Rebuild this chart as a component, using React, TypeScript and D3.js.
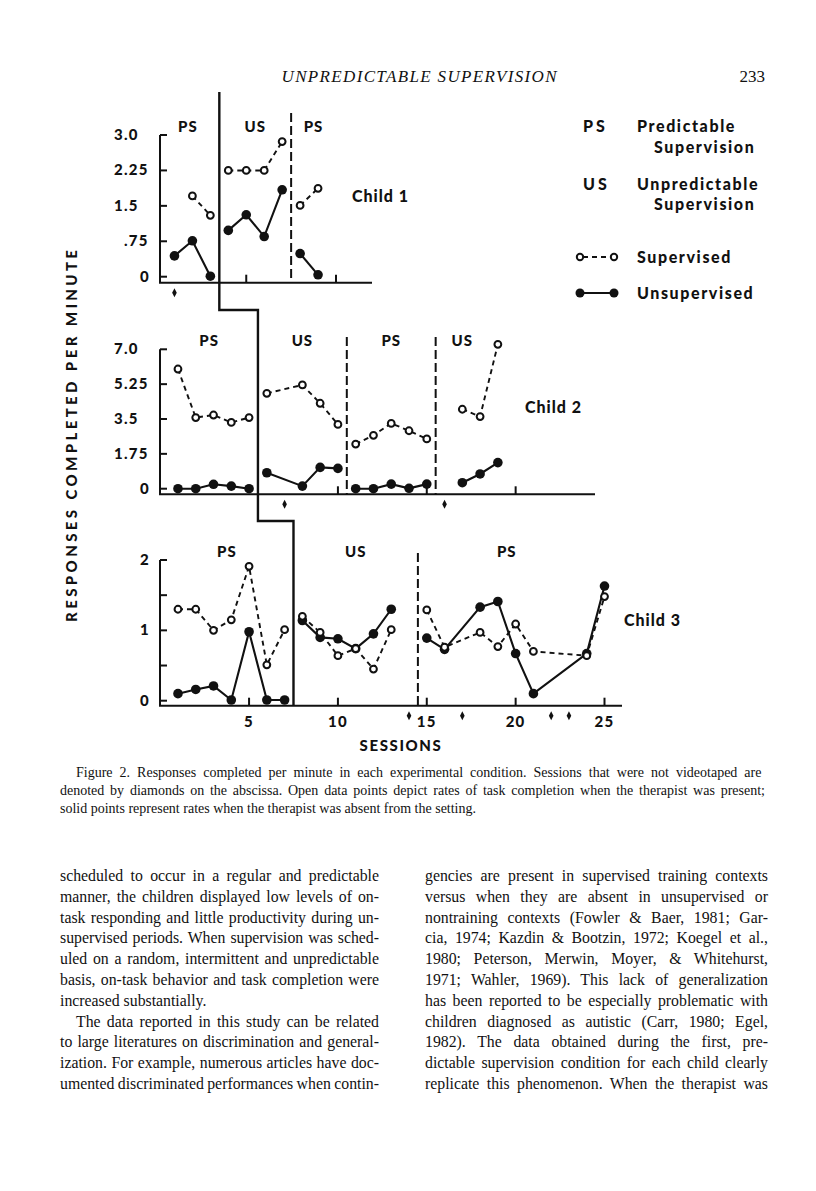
import React, { useLayoutEffect, useRef, useState } from 'react';
import * as d3 from 'd3';

// ---------------- DATA ----------------
const child1Sessions = [1, 2, 3, 4, 5, 6, 7, 8, 9];
const child1Supervised = [null, 1.71, 1.3, 2.25, 2.25, 2.25, 2.86, 1.51, 1.87];
const child1Unsupervised = [0.44, 0.76, 0.01, 0.98, 1.31, 0.85, 1.84, 0.49, 0.04];
const child1Phases = ['PS', 'US', 'PS'];
const child1PhaseBounds = [0, 3.5, 7.5, 10];
const child1NotTaped = [1];
const child1YTicks = [0, 0.75, 1.5, 2.25, 3];
const child1YLabels = ['0', '.75', '1.5', '2.25', '3.0'];
const child1XTicks = [5, 10];

const child2Sessions = [1, 2, 3, 4, 5, 6, 8, 9, 10, 11, 12, 13, 14, 15, 17, 18, 19];
const child2Supervised = [6.01, 3.57, 3.7, 3.33, 3.57, 4.79, 5.21, 4.29, 3.23, 2.24, 2.68, 3.28, 2.91, 2.5, 3.99, 3.62, 7.25];
const child2Unsupervised = [0.0, 0.0, 0.22, 0.13, 0.0, 0.8, 0.13, 1.07, 1.02, 0.0, 0.0, 0.23, 0.02, 0.23, 0.3, 0.74, 1.31];
const child2Phases = ['PS', 'US', 'PS', 'US'];
const child2PhaseBounds = [0, 5.5, 10.5, 15.5, 18.5];
const child2NotTaped = [7, 16];
const child2YTicks = [0, 1.75, 3.5, 5.25, 7];
const child2YLabels = ['0', '1.75', '3.5', '5.25', '7.0'];
const child2XTicks = [10, 15, 20];

const child3Sessions = [1, 2, 3, 4, 5, 6, 7, 8, 9, 10, 11, 12, 13, 15, 16, 18, 19, 20, 21, 24, 25];
const child3Supervised = [1.3, 1.3, 1.0, 1.15, 1.91, 0.51, 1.01, 1.2, 0.97, 0.64, 0.74, 0.45, 1.01, 1.29, 0.76, 0.97, 0.77, 1.09, 0.7, 0.64, 1.48];
const child3Unsupervised = [0.1, 0.16, 0.21, 0.01, 0.98, 0.01, 0.01, 1.14, 0.9, 0.88, 0.74, 0.95, 1.3, 0.89, 0.73, 1.33, 1.41, 0.67, 0.1, 0.67, 1.63];
const child3Phases = ['PS', 'US', 'PS'];
const child3PhaseBounds = [0, 7.5, 14.5, 24.5];
const child3NotTaped = [14, 17, 22, 23];
const child3YTicks = [0, 0.5, 1, 1.5, 2];
const child3YLabels = ['0', '', '1', '', '2'];
const child3XTicks = [5, 10, 15, 20, 25];
const child3XLabels = ['5', '10', '15', '20', '25'];

const legendCodes = ['PS', 'US'];
const legendCodeNames = [['Predictable', 'Supervision'], ['Unpredictable', 'Supervision']];
const legendSeries = ['Supervised', 'Unsupervised'];

const headerTitle = 'UNPREDICTABLE SUPERVISION';
const pageNumber = '233';
const yAxisTitle = 'RESPONSES COMPLETED PER MINUTE';
const xAxisTitle = 'SESSIONS';

const captionLines = [
  'Figure 2.  Responses completed per minute in each experimental condition. Sessions that were not videotaped are',
  'denoted by diamonds on the abscissa. Open data points depict rates of task completion when the therapist was present;',
  'solid points represent rates when the therapist was absent from the setting.',
];

const leftColumn = [
  'scheduled to occur in a regular and predictable',
  'manner, the children displayed low levels of on-',
  'task responding and little productivity during un-',
  'supervised periods. When supervision was sched-',
  'uled on a random, intermittent and unpredictable',
  'basis, on-task behavior and task completion were',
  'increased substantially.',
  'The data reported in this study can be related',
  'to large literatures on discrimination and general-',
  'ization. For example, numerous articles have doc-',
  'umented discriminated performances when contin-',
];
const rightColumn = [
  'gencies are present in supervised training contexts',
  'versus when they are absent in unsupervised or',
  'nontraining contexts (Fowler & Baer, 1981; Gar-',
  'cia, 1974; Kazdin & Bootzin, 1972; Koegel et al.,',
  '1980; Peterson, Merwin, Moyer, & Whitehurst,',
  '1971; Wahler, 1969). This lack of generalization',
  'has been reported to be especially problematic with',
  'children diagnosed as autistic (Carr, 1980; Egel,',
  '1982). The data obtained during the first, pre-',
  'dictable supervision condition for each child clearly',
  'replicate this phenomenon. When the therapist was',
];

// ---------------- LAYOUT ----------------
const W = 816;
const H = 1191;
const INK = '#111';
const SANS = 'Lato, "DejaVu Sans", sans-serif';
const SERIF = '"Liberation Serif", "DejaVu Serif", serif';
const HEAVY = 900;
const AXIS_X = 160;

const xMain = d3.scaleLinear().domain([0, 25]).range([160.2, 604.5]);
const xChild1 = d3.scaleLinear().domain([0, 10]).range([156.5, 336]);

const panels = [
  {
    name: 'Child 1',
    sessions: child1Sessions, sup: child1Supervised, unsup: child1Unsupervised,
    phases: child1Phases, bounds: child1PhaseBounds, notTaped: child1NotTaped,
    yTicks: child1YTicks, yLabels: child1YLabels, xTicks: child1XTicks, xLabels: null as string[] | null,
    x: xChild1,
    y: d3.scaleLinear().domain([0, 3]).range([276.7, 135]),
    baseline: 282.7, baseEnd: 372, dashTop: 113,
    childPos: [352, 202],
  },
  {
    name: 'Child 2',
    sessions: child2Sessions, sup: child2Supervised, unsup: child2Unsupervised,
    phases: child2Phases, bounds: child2PhaseBounds, notTaped: child2NotTaped,
    yTicks: child2YTicks, yLabels: child2YLabels, xTicks: child2XTicks, xLabels: null as string[] | null,
    x: xMain,
    y: d3.scaleLinear().domain([0, 7]).range([488.7, 349.3]),
    baseline: 494.3, baseEnd: 595, dashTop: 337,
    childPos: [525, 413],
  },
  {
    name: 'Child 3',
    sessions: child3Sessions, sup: child3Supervised, unsup: child3Unsupervised,
    phases: child3Phases, bounds: child3PhaseBounds, notTaped: child3NotTaped,
    yTicks: child3YTicks, yLabels: child3YLabels, xTicks: child3XTicks, xLabels: child3XLabels,
    x: xMain,
    y: d3.scaleLinear().domain([0, 2]).range([700.7, 560]),
    baseline: 705.7, baseEnd: 622, dashTop: 553,
    childPos: [624, 626],
  },
];

const diamondPath = 'M0,-4.5 L2.3,0 L0,4.5 L-2.3,0 Z';

function YLabel({ label, y }: { label: string; y: number }) {
  const common = { fontFamily: SANS, fontWeight: HEAVY, fontSize: 15, fill: INK, letterSpacing: 1.2 } as const;
  if (!label) return null;
  if (label.includes('.')) {
    const [a, b] = label.split('.');
    const decX = 124;
    return (
      <g>
        {a && <text x={decX} y={y + 5} textAnchor="end" {...common}>{a}</text>}
        <text x={decX} y={y + 5} textAnchor="start" {...common}>{'.' + b}</text>
      </g>
    );
  }
  return <text x={150} y={y + 5} textAnchor="end" {...common}>{label}</text>;
}

function Panel({ p }: { p: (typeof panels)[number] }) {
  const { x, y } = p;
  const yTop = y(p.yTicks[p.yTicks.length - 1]);
  const items = p.sessions.map((s, i) => ({ s, sup: p.sup[i], unsup: p.unsup[i] }));
  const last = p.phases.length - 1;
  const groups = p.phases.map((_, k) =>
    items.filter((d) => d.s > p.bounds[k] && (k === last || d.s < p.bounds[k + 1]))
  );
  const lineSup = d3
    .line<{ s: number; sup: number | null }>()
    .defined((d) => d.sup != null)
    .x((d) => x(d.s))
    .y((d) => y(d.sup as number));
  const lineUnsup = d3
    .line<{ s: number; unsup: number | null }>()
    .defined((d) => d.unsup != null)
    .x((d) => x(d.s))
    .y((d) => y(d.unsup as number));

  return (
    <g>
      <line x1={AXIS_X} x2={AXIS_X} y1={yTop} y2={p.baseline} stroke={INK} strokeWidth={2} />
      {p.yTicks.map((t, i) => (
        <g key={'yt' + i}>
          <line x1={AXIS_X} x2={AXIS_X + 7} y1={y(t)} y2={y(t)} stroke={INK} strokeWidth={2} />
          <YLabel label={p.yLabels[i]} y={y(t)} />
        </g>
      ))}
      <line x1={AXIS_X - 1} x2={p.baseEnd} y1={p.baseline} y2={p.baseline} stroke={INK} strokeWidth={2} />
      {p.xTicks.map((t, i) => (
        <g key={'xt' + i}>
          <line x1={x(t)} x2={x(t)} y1={p.baseline} y2={p.baseline - 8} stroke={INK} strokeWidth={2} />
          {p.xLabels && (
            <text x={x(t)} y={p.baseline + 21} textAnchor="middle" fontFamily={SANS} fontWeight={HEAVY} fontSize={15} fill={INK} letterSpacing={1.2}>
              {p.xLabels[i]}
            </text>
          )}
        </g>
      ))}
      {p.notTaped.map((s) => (
        <path key={'d' + s} d={diamondPath} transform={`translate(${x(s)},${p.baseline + 10})`} fill={INK} />
      ))}
      {p.bounds.slice(2, p.bounds.length - 1).map((b, i) => (
        <line key={'pl' + i} x1={x(b)} x2={x(b)} y1={p.dashTop} y2={p.baseline} stroke={INK} strokeWidth={2} strokeDasharray="9,4" />
      ))}
      {p.phases.map((lab, k) => (
        <text key={'ph' + k} x={x((p.bounds[k] + p.bounds[k + 1]) / 2)} y={yTop - 3} textAnchor="middle" fontFamily={SANS} fontWeight={HEAVY} fontSize={15} fill={INK} letterSpacing={1}>
          {lab}
        </text>
      ))}
      {groups.map((g, k) => (
        <g key={'g' + k}>
          <path d={lineSup(g) || ''} fill="none" stroke={INK} strokeWidth={1.9} strokeDasharray="5,4" />
          <path d={lineUnsup(g) || ''} fill="none" stroke={INK} strokeWidth={2.1} />
        </g>
      ))}
      {items.map((d) =>
        d.unsup != null ? <circle key={'u' + d.s} cx={x(d.s)} cy={y(d.unsup)} r={4.8} fill={INK} /> : null
      )}
      {items.map((d) =>
        d.sup != null ? (
          <circle key={'s' + d.s} cx={x(d.s)} cy={y(d.sup)} r={3.4} fill="#fff" stroke={INK} strokeWidth={2} />
        ) : null
      )}
      <text x={p.childPos[0]} y={p.childPos[1]} fontFamily={SANS} fontWeight={HEAVY} fontSize={16} fill={INK} letterSpacing={1}>
        {p.name}
      </text>
    </g>
  );
}

function JustLine({ text, x, y, width, fontSize, justify }: {
  text: string; x: number; y: number; width: number; fontSize: number; justify: boolean;
}) {
  const ref = useRef<SVGTextElement>(null);
  const [ws, setWs] = useState(0);
  useLayoutEffect(() => {
    if (!justify || !ref.current) return;
    const natural = ref.current.getComputedTextLength();
    const spaces = (text.match(/ /g) || []).length;
    if (spaces > 0) setWs((width - natural) / spaces);
  }, [text, width, justify, fontSize]);
  return (
    <text ref={ref} x={x} y={y} fontFamily={SERIF} fontSize={fontSize} fill={INK} style={{ wordSpacing: ws }}>
      {text}
    </text>
  );
}

function TextBlock({ lines, x, width, y0, step, fontSize, noJustify, indent }: {
  lines: string[]; x: number; width: number; y0: number; step: number; fontSize: number; noJustify: number[]; indent: Record<number, number>;
}) {
  return (
    <g>
      {lines.map((l, i) => {
        const ind = indent[i] || 0;
        return (
          <JustLine key={i} text={l} x={x + ind} y={y0 + i * step} width={width - ind} fontSize={fontSize} justify={!noJustify.includes(i)} />
        );
      })}
    </g>
  );
}

export default function App() {
  const [p1, p2, p3] = panels;
  const stair: [number, number][] = [
    [p1.x(p1.bounds[1]), 92],
    [p1.x(p1.bounds[1]), 310],
    [p2.x(p2.bounds[1]), 310],
    [p2.x(p2.bounds[1]), 521],
    [p3.x(p3.bounds[1]), 521],
    [p3.x(p3.bounds[1]), p3.baseline],
  ];
  const stairPath = d3.line()(stair) || '';

  return (
    <div style={{ position: 'absolute', left: 0, top: 0, width: W, height: H, background: '#fff' }}>
      <svg width={W} height={H} viewBox={`0 0 ${W} ${H}`} style={{ display: 'block' }}>
        <rect width={W} height={H} fill="#fff" />
        <text x={419} y={82} textAnchor="middle" fontFamily={SERIF} fontStyle="italic" fontSize={17} fill={INK} textLength={275} lengthAdjust="spacing">
          {headerTitle}
        </text>
        <text x={765} y={82} textAnchor="end" fontFamily={SERIF} fontSize={17} fill={INK}>
          {pageNumber}
        </text>

        <text transform="translate(77,436) rotate(-90)" textAnchor="middle" fontFamily={SANS} fontWeight={HEAVY} fontSize={15} fill={INK} textLength={372} lengthAdjust="spacing">
          {yAxisTitle}
        </text>

        {panels.map((p) => (
          <Panel key={p.name} p={p} />
        ))}

        <path d={stairPath} fill="none" stroke={INK} strokeWidth={2.4} />

        <text x={401} y={751} textAnchor="middle" fontFamily={SANS} fontWeight={HEAVY} fontSize={15} fill={INK} letterSpacing={1.6}>
          {xAxisTitle}
        </text>

        {legendCodes.map((c, i) => (
          <g key={c}>
            <text x={583} y={132 + i * 58} fontFamily={SANS} fontWeight={HEAVY} fontSize={16} fill={INK} letterSpacing={3}>
              {c}
            </text>
            <text x={637} y={132 + i * 58} fontFamily={SANS} fontWeight={HEAVY} fontSize={16} fill={INK} letterSpacing={1.6}>
              {legendCodeNames[i][0]}
            </text>
            <text x={654} y={153 + i * 57} fontFamily={SANS} fontWeight={HEAVY} fontSize={16} fill={INK} letterSpacing={1.6}>
              {legendCodeNames[i][1]}
            </text>
          </g>
        ))}
        {legendSeries.map((s, i) => {
          const cy = 257 + i * 36;
          return (
            <g key={s}>
              {i === 0 ? (
                <g>
                  <line x1={580} x2={614} y1={cy} y2={cy} stroke={INK} strokeWidth={1.9} strokeDasharray="5,4" strokeDashoffset={-3} />
                  <circle cx={580} cy={cy} r={3.2} fill="#fff" stroke={INK} strokeWidth={2} />
                  <circle cx={614} cy={cy} r={3.2} fill="#fff" stroke={INK} strokeWidth={2} />
                </g>
              ) : (
                <g>
                  <line x1={580} x2={614} y1={cy} y2={cy} stroke={INK} strokeWidth={2.1} />
                  <circle cx={580} cy={cy} r={4.5} fill={INK} />
                  <circle cx={614} cy={cy} r={4.5} fill={INK} />
                </g>
              )}
              <text x={637} y={cy + 6} fontFamily={SANS} fontWeight={HEAVY} fontSize={16} fill={INK} letterSpacing={1.6}>
                {s}
              </text>
            </g>
          );
        })}

        <TextBlock lines={captionLines} x={60} width={705} y0={777} step={18} fontSize={14} noJustify={[2]} indent={{ 0: 16 }} />

        <TextBlock lines={leftColumn} x={60} width={319} y0={881} step={20.8} fontSize={15.8} noJustify={[6]} indent={{ 7: 16 }} />
        <TextBlock lines={rightColumn} x={425} width={343} y0={881} step={20.8} fontSize={15.8} noJustify={[]} indent={{}} />
      </svg>
    </div>
  );
}
